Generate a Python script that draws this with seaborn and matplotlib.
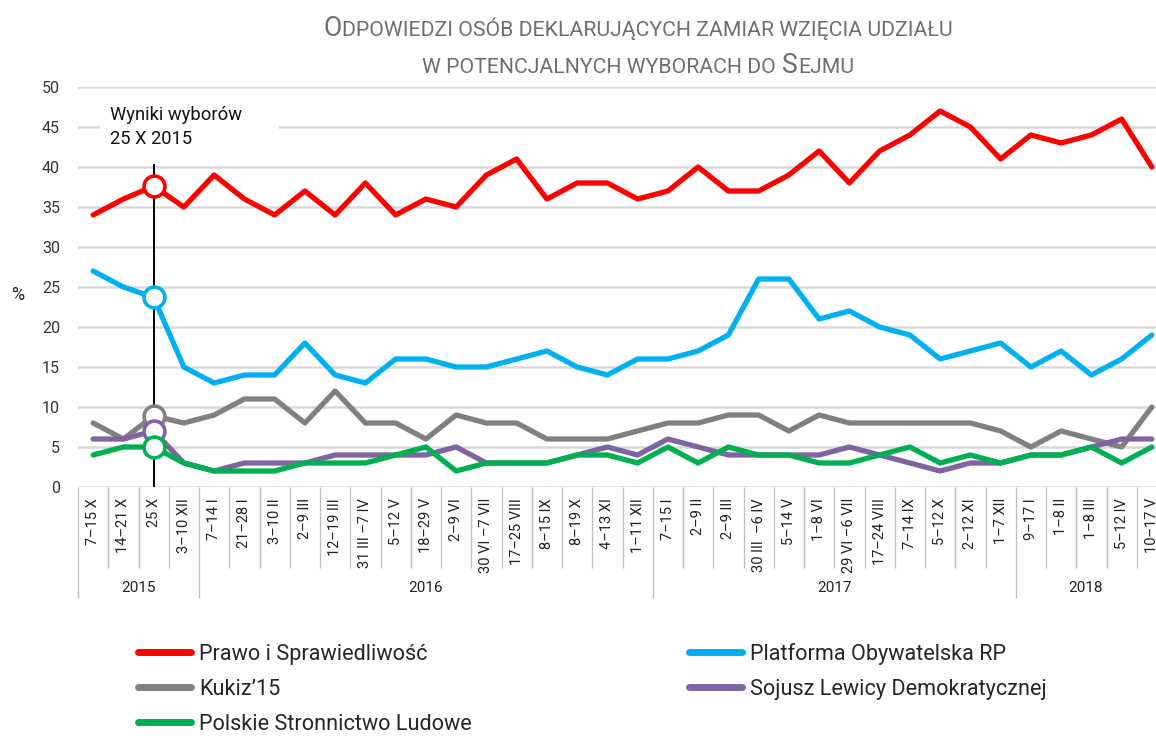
import numpy as np
import pandas as pd
import matplotlib
matplotlib.use("Agg")
import matplotlib.pyplot as plt
from matplotlib import font_manager
from matplotlib.lines import Line2D
from matplotlib.patches import Rectangle
from matplotlib.offsetbox import TextArea, HPacker, VPacker, AnchoredOffsetbox
import seaborn as sns

# ---------------- data ----------------
categories = ['7–15 X', '14–21 X', '25 X', '3–10 XII',
              '7–14 I', '21–28 I', '3–10 II', '2–9 III', '12–19 III', '31 III –7 IV',
              '5–12 V', '18–29 V', '2–9 VI', '30 VI –7 VII', '17–25 VIII', '8–15 IX',
              '8–19 X', '4–13 XI', '1–11 XII',
              '7–15 I', '2–9 II', '2–9 III', '30 III  –6 IV', '5–14 V', '1–8 VI',
              '29 VI –6 VII', '17–24 VIII', '7–14 IX', '5–12 X', '2–12 XI', '1–7 XII',
              '9–17 I', '1–8 II', '1–8 III', '5–12 IV', '10–17 V']
years = ['2015', '2016', '2017', '2018']
year_counts = [4, 15, 12, 5]

pis = [34, 36, 37.6, 35, 39, 36, 34, 37, 34, 38, 34, 36, 35, 39, 41, 36, 38, 38, 36,
       37, 40, 37, 37, 39, 42, 38, 42, 44, 47, 45, 41, 44, 43, 44, 46, 40]
po = [27, 25, 23.7, 15, 13, 14, 14, 18, 14, 13, 16, 16, 15, 15, 16, 17, 15, 14, 16,
      16, 17, 19, 26, 26, 21, 22, 20, 19, 16, 17, 18, 15, 17, 14, 16, 19]
kukiz = [8, 6, 8.9, 8, 9, 11, 11, 8, 12, 8, 8, 6, 9, 8, 8, 6, 6, 6, 7,
         8, 8, 9, 9, 7, 9, 8, 8, 8, 8, 8, 7, 5, 7, 6, 5, 10]
sld = [6, 6, 7.0, 3, 2, 3, 3, 3, 4, 4, 4, 4, 5, 3, 3, 3, 4, 5, 4,
       6, 5, 4, 4, 4, 4, 5, 4, 3, 2, 3, 3, 4, 4, 5, 6, 6]
psl = [4, 5, 5.0, 3, 2, 2, 2, 3, 3, 3, 4, 5, 2, 3, 3, 3, 4, 4, 3,
       5, 3, 5, 4, 4, 3, 3, 4, 5, 3, 4, 3, 4, 4, 5, 3, 5]

parties = ['Prawo i Sprawiedliwość', 'Platforma Obywatelska RP', 'Kukiz’15',
           'Sojusz Lewicy Demokratycznej', 'Polskie Stronnictwo Ludowe']
series = [pis, po, kukiz, sld, psl]
colors = ['#FF0000', '#00B0F0', '#808080', '#8064A2', '#00B050']
election_index = 2
election_label = 'Wyniki wyborów\n25 X 2015'
title_line1 = ('O', 'DPOWIEDZI OSÓB DEKLARUJĄCYCH ZAMIAR WZIĘCIA UDZIAŁU')
title_line2 = ('W POTENCJALNYCH WYBORACH DO', 'S', 'EJMU')

# ---------------- fonts ----------------
def has_font(name):
    try:
        font_manager.findfont(font_manager.FontProperties(family=name), fallback_to_default=False)
        return True
    except Exception:
        return False

narrow = 'Liberation Sans Narrow' if has_font('Liberation Sans Narrow') else 'Roboto'
main = 'Roboto'

sns.set_theme(style='white')
plt.rcParams['font.family'] = [main, 'DejaVu Sans']
plt.rcParams['lines.solid_joinstyle'] = 'round'
plt.rcParams['lines.solid_capstyle'] = 'round'

# ---------------- frame ----------------
W, H = 1156, 736
fig = plt.figure(figsize=(W / 100, H / 100), dpi=100)
fig.patch.set_facecolor('white')
ax = fig.add_axes([78 / W, 1 - 487 / H, 1089 / W, 400 / H])

n = len(categories)
x = np.arange(n)
df = pd.concat([pd.DataFrame({'idx': x, 'value': s, 'party': p})
                for p, s in zip(parties, series)], ignore_index=True)

sns.lineplot(data=df, x='idx', y='value', hue='party', hue_order=parties,
             palette=dict(zip(parties, colors)), linewidth=3.8, ax=ax,
             legend=False, zorder=3)

# election markers
for s, c in zip(series, colors):
    ax.plot([x[election_index]], [s[election_index]], 'o', ms=15, mfc='white',
            mec=c, mew=2.6, zorder=6)

# vertical election line
ax.plot([x[election_index]] * 2, [0, 40.4], color='black', lw=1.4, zorder=5,
        solid_capstyle='butt')
# white area behind the annotation (interrupts the 45 gridline)
ax.add_patch(Rectangle((0.23, 42.6), 5.9, 6.0, facecolor='white', edgecolor='none',
                       zorder=1))
ax.text(0.56, 47.6, election_label, ha='left', va='top', fontsize=13.2,
        linespacing=1.45, color='#111111', zorder=7)

ax.set_xlim(-0.5, n - 0.5)
ax.set_ylim(0, 50)
ax.set_yticks(np.arange(0, 51, 5))
ax.yaxis.grid(True, color='#D9D9D9', lw=1.8, zorder=0)
ax.xaxis.grid(False)
ax.set_axisbelow(True)
for sp in ax.spines.values():
    sp.set_visible(False)
ax.tick_params(axis='y', length=0, pad=13, labelsize=11.5, labelcolor='#333333')
ax.set_xticks(x)
ax.set_xticklabels(categories, rotation=90, fontsize=10.5, family=[narrow, 'DejaVu Sans'],
                   color='#222222')
ax.tick_params(axis='x', length=0, pad=8)
ax.set_xlabel('')
ax.set_ylabel('')
fig.text(18 / W, 1 - 295 / H, '%', fontsize=13, ha='center', va='center', color='#222222')

# category separators and year rows
trans = ax.get_xaxis_transform()
year_bounds = set(np.cumsum([0] + year_counts))
for k in range(n + 1):
    y1 = -0.2775 if k in year_bounds else -0.2025
    ax.plot([k - 0.5, k - 0.5], [0, y1], transform=trans, color='#BFBFBF', lw=1.0,
            clip_on=False, solid_capstyle='butt')
start = 0
for yr, cnt in zip(years, year_counts):
    end = min(start + cnt, n)
    xc = (start - 0.5 + end - 0.5) / 2
    if yr == years[-1]:
        xc -= 0.2
    ax.text(xc, -0.252, yr, transform=trans, ha='center', va='center', fontsize=11,
            family=[narrow, 'DejaVu Sans'], color='#222222', clip_on=False)
    start = end

# legend: column-major ordering PiS, Kukiz, PSL | PO, SLD
order = [0, 2, 4, 1, 3]
handles = [Line2D([], [], color=colors[i], lw=5, solid_capstyle='round') for i in order]
labels = [parties[i] for i in order]
fig.legend(handles, labels, loc='upper left', bbox_to_anchor=(138 / W, 1 - 643 / H),
           bbox_transform=fig.transFigure, ncol=2, frameon=False,
           prop={'family': [narrow, 'DejaVu Sans'], 'size': 15.6},
           handlelength=2.45, handletextpad=0.38, labelspacing=0.64, columnspacing=10.0,
           borderpad=0, borderaxespad=0)

# title in small caps
tc = '#6E6E6E'
big = dict(size=19.2, color=tc, family=[narrow, 'DejaVu Sans'])
small = dict(size=15.3, color=tc, family=[narrow, 'DejaVu Sans'])
l1 = HPacker(children=[TextArea(title_line1[0], textprops=big),
                       TextArea(title_line1[1], textprops=small)],
             align='baseline', pad=0, sep=0)
sej = HPacker(children=[TextArea(title_line2[1], textprops=big),
                        TextArea(title_line2[2], textprops=small)],
              align='baseline', pad=0, sep=0)
l2 = HPacker(children=[TextArea(title_line2[0], textprops=small), sej],
             align='baseline', pad=0, sep=5)
vb = VPacker(children=[l1, l2], align='center', pad=0, sep=7)
ab = AnchoredOffsetbox(loc='upper center', child=vb, pad=0, borderpad=0, frameon=False,
                       bbox_to_anchor=(638 / W, 1 - 15 / H), bbox_transform=fig.transFigure)
fig.add_artist(ab)

fig.savefig('out.png', dpi=100, facecolor='white')
